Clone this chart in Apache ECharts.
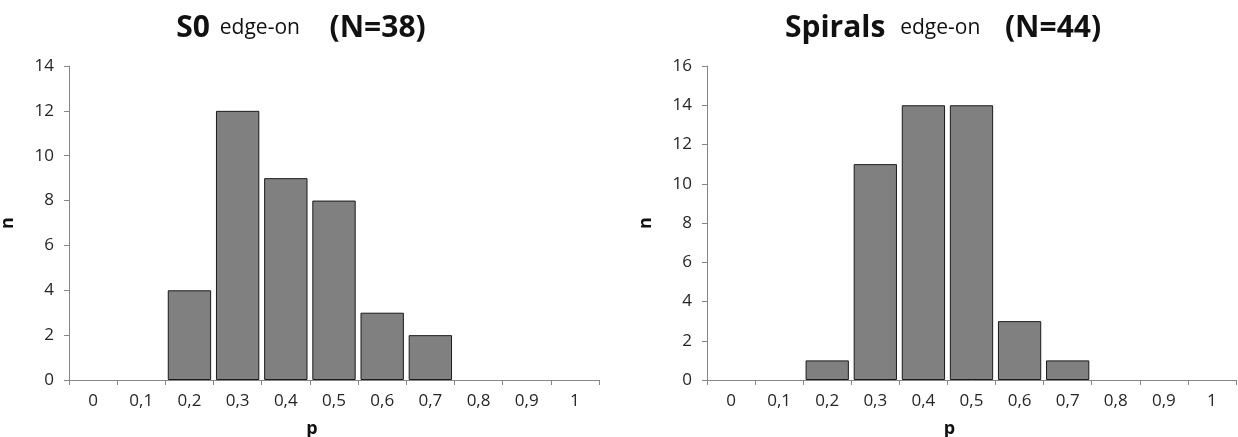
<!DOCTYPE html>
<html>
<head>
<meta charset="utf-8">
<script src="https://cdn.jsdelivr.net/npm/echarts@6/dist/echarts.min.js"></script>
<style>
  html, body { margin: 0; padding: 0; background: #fff; }
  #chart { width: 1238px; height: 437px; }
</style>
</head>
<body>
<div id="chart"></div>
<script>
// p bins shared by both panels
const pBins = ["0", "0,1", "0,2", "0,3", "0,4", "0,5", "0,6", "0,7", "0,8", "0,9", "1"];

// counts per bin
const s0Counts = [0, 0, 4, 12, 9, 8, 3, 2, 0, 0, 0];
const spiralCounts = [0, 0, 1, 11, 14, 14, 3, 1, 0, 0, 0];

// y axis maxima
const s0Max = 14;
const spiralMax = 16;

const FONT = "Open Sans";
const axisColor = "#868686";

const titleRich = {
  a: { fontFamily: FONT, fontWeight: "bold", fontSize: 30, color: "#111", lineHeight: 36, verticalAlign: "bottom" },
  b: { fontFamily: FONT, fontWeight: "normal", fontSize: 21, color: "#111", lineHeight: 26, verticalAlign: "bottom", padding: [0, 0, 4, 0] },
};

function makeX(gridIndex) {
  return {
    type: "category",
    gridIndex: gridIndex,
    data: pBins,
    name: "p",
    nameLocation: "middle",
    nameGap: 40,
    nameTextStyle: { fontFamily: FONT, fontWeight: "bold", fontSize: 18, color: "#111", padding: [0, 44, 0, 0] },
    axisLine: { lineStyle: { color: axisColor, width: 1 } },
    axisTick: { show: true, length: 5, lineStyle: { color: axisColor } },
    axisLabel: { fontFamily: FONT, fontSize: 17, color: "#262626", margin: 13, interval: 0 },
    splitLine: { show: false },
  };
}

function makeY(gridIndex, max) {
  return {
    type: "value",
    gridIndex: gridIndex,
    min: 0,
    max: max,
    interval: 2,
    name: "n",
    nameLocation: "middle",
    nameGap: 52,
    nameTextStyle: { fontFamily: FONT, fontWeight: "bold", fontSize: 18, color: "#111" },
    axisLine: { show: true, lineStyle: { color: axisColor, width: 1 } },
    axisTick: { show: true, length: 5, lineStyle: { color: axisColor } },
    axisLabel: { fontFamily: FONT, fontSize: 17, color: "#262626", margin: 15 },
    splitLine: { show: false },
  };
}

function makeBars(idx, counts) {
  return {
    type: "bar",
    xAxisIndex: idx,
    yAxisIndex: idx,
    // empty bins get no outline, like the original
    data: counts.map((v) => (v === 0 ? { value: v, itemStyle: { borderWidth: 0 } } : v)),
    barCategoryGap: "10%",
    itemStyle: { color: "#808080", borderColor: "#1a1a1a", borderWidth: 1 },
    animation: false,
  };
}

const option = {
  backgroundColor: "#fff",
  animation: false,
  title: [
    {
      text: "{a|S0}  {b|edge-on}      {a|(N=38)}",
      left: 296,
      top: 2,
      textAlign: "center",
      textStyle: { fontFamily: FONT, fontSize: 19, rich: titleRich },
    },
    {
      text: "{a|Spirals}   {b|edge-on}     {a|(N=44)}",
      left: 938,
      top: 2,
      textAlign: "center",
      textStyle: { fontFamily: FONT, fontSize: 19, rich: titleRich },
    },
  ],
  grid: [
    { left: 69, right: 639, top: 66, bottom: 57, containLabel: false, outerBoundsMode: "none" },
    { left: 707, right: 2, top: 66, bottom: 57, containLabel: false, outerBoundsMode: "none" },
  ],
  xAxis: [makeX(0), makeX(1)],
  yAxis: [makeY(0, s0Max), makeY(1, spiralMax)],
  series: [makeBars(0, s0Counts), makeBars(1, spiralCounts)],
};

const chart = echarts.init(document.getElementById("chart"));
chart.setOption(option);
</script>
</body>
</html>
